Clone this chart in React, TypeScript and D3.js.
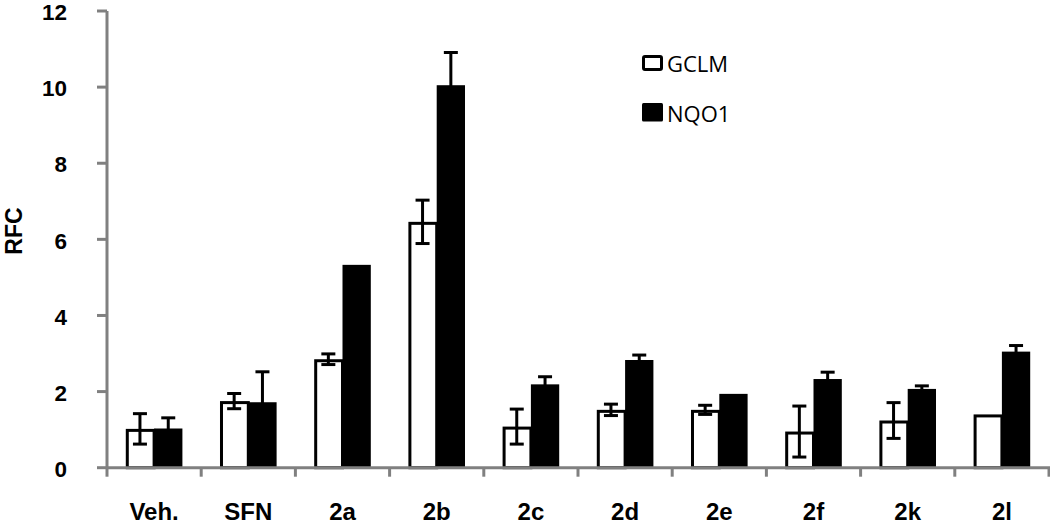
import React from "react";
import * as d3 from "d3";

const categories = ["Veh.", "SFN", "2a", "2b", "2c", "2d", "2e", "2f", "2k", "2l"];
const series = ["GCLM", "NQO1"];
const gclm = [1.02, 1.75, 2.85, 6.46, 1.08, 1.52, 1.52, 0.95, 1.24, 1.4];
const gclmErr = [0.4, 0.2, 0.14, 0.57, 0.46, 0.15, 0.12, 0.67, 0.47, 0];
const nqo1 = [1.03, 1.72, 5.33, 10.05, 2.19, 2.83, 1.94, 2.33, 2.07, 3.05];
const nqo1Err = [0.28, 0.8, 0, 0.86, 0.2, 0.13, 0, 0.18, 0.08, 0.16];
const yTicks = [0, 2, 4, 6, 8, 10, 12];

export default function App() {
  const W = 1050, H = 525;
  const left = 107, right = 1049, top = 11, bottom = 467.7;
  const x0 = d3.scaleBand<string>().domain(categories).range([left, right]).paddingInner(0).paddingOuter(0);
  const x1 = d3.scaleBand<string>().domain(series).range([0, x0.bandwidth()]).paddingInner(0).paddingOuter(0.664);
  const y = d3.scaleLinear().domain([0, 12]).range([bottom, top]);
  const axisColor = "#808080";
  const bw = x1.bandwidth();
  const capW = 14;
  const boundaries = categories.map((c) => x0(c) as number).concat([right]);

  const errBar = (cx: number, v: number, e: number, key: string) => {
    if (!e) return null;
    return (
      <g key={key} stroke="#000" strokeWidth={3}>
        <line x1={cx} x2={cx} y1={y(v + e)} y2={y(v - e)} />
        <line x1={cx - capW / 2} x2={cx + capW / 2} y1={y(v + e)} y2={y(v + e)} />
        <line x1={cx - capW / 2} x2={cx + capW / 2} y1={y(v - e)} y2={y(v - e)} />
      </g>
    );
  };

  return (
    <svg width={W} height={H} style={{ position: "absolute", left: 0, top: 0, background: "#fff" }}>
      {categories.map((c, i) => {
        const gx = (x0(c) as number) + (x1("GCLM") as number);
        const nx = (x0(c) as number) + (x1("NQO1") as number);
        return (
          <g key={c}>
            <rect x={nx} y={y(nqo1[i])} width={bw} height={bottom - y(nqo1[i])} fill="#000" />
            <rect x={gx + 1.5} y={y(gclm[i]) + 1.5} width={bw - 1.5} height={bottom - y(gclm[i]) - 1.5} fill="#fff" stroke="#000" strokeWidth={3} />
            {errBar(gx + bw / 2, gclm[i], gclmErr[i], "ge" + i)}
            {errBar(nx + bw / 2, nqo1[i], nqo1Err[i], "ne" + i)}
          </g>
        );
      })}
      <g stroke={axisColor} strokeWidth={3}>
        <line x1={left} x2={left} y1={top} y2={bottom} />
        <line x1={left} x2={W} y1={bottom} y2={bottom} />
        {yTicks.map((t) => (
          <line key={"yt" + t} x1={left - 10} x2={left} y1={y(t)} y2={y(t)} />
        ))}
        {boundaries.map((b, i) => (
          <line key={"xt" + i} x1={b} x2={b} y1={bottom} y2={bottom + 9} />
        ))}
      </g>
      {yTicks.map((t) => (
        <text key={"yl" + t} x={67} y={y(t) + 9.2} textAnchor="end" fontFamily="Liberation Sans, Arial, sans-serif" fontWeight="bold" fontSize={22.5} fill="#000">
          {t}
        </text>
      ))}
      {categories.map((c) => (
        <text key={"xl" + c} x={(x0(c) as number) + x0.bandwidth() / 2} y={519.5} textAnchor="middle" fontFamily="Liberation Sans, Arial, sans-serif" fontWeight="bold" fontSize={24} fill="#000">
          {c}
        </text>
      ))}
      <text transform="translate(22,231) rotate(-90)" textAnchor="middle" fontFamily="Liberation Sans, Arial, sans-serif" fontWeight="bold" fontSize={23} fill="#000">
        RFC
      </text>
      <g fontFamily="Open Sans, sans-serif" fontSize={22} fill="#000">
        <rect x={643.5} y={56.5} width={18} height={13} fill="#fff" stroke="#000" strokeWidth={3} rx={1.5} />
        <text x={667} y={72}>{series[0]}</text>
        <rect x={642} y={103} width={21} height={18.5} fill="#000" rx={1.5} />
        <text x={667} y={121.5}>{series[1]}</text>
      </g>
    </svg>
  );
}
